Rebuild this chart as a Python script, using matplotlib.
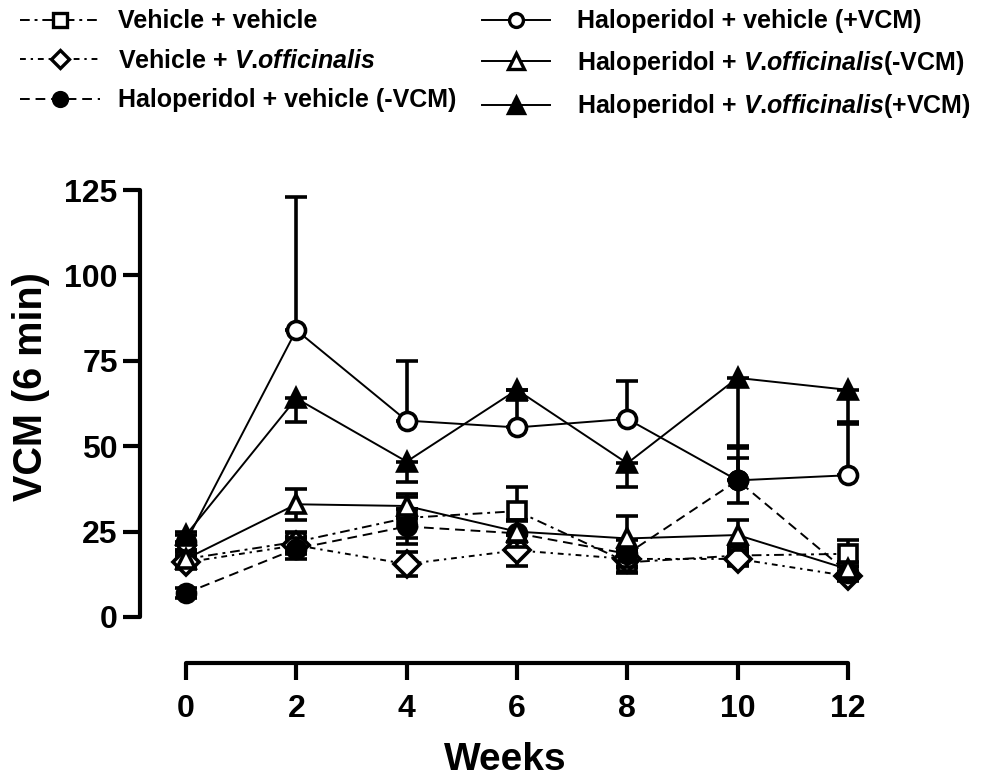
import matplotlib
matplotlib.use('Agg')
import matplotlib.pyplot as plt
from matplotlib.lines import Line2D

plt.rcParams['font.family'] = ['Liberation Sans', 'DejaVu Sans']
plt.rcParams['font.weight'] = 'bold'
plt.rcParams['mathtext.fontset'] = 'custom'
plt.rcParams['mathtext.bfit'] = 'Liberation Sans:italic:bold'
plt.rcParams['mathtext.it'] = 'Liberation Sans:italic:bold'
plt.rcParams['mathtext.rm'] = 'Liberation Sans:bold'

weeks = [0, 2, 4, 6, 8, 10, 12]

veh_veh = [17, 22, 29, 31, 16, 18, 18.5]
veh_veh_err = [2.5, 3, 6, 7, 3, 2.5, 4]

veh_vo = [16, 21, 15.5, 19.5, 17, 17, 12]
veh_vo_err = [2, 2.5, 3.5, 4.5, 2.5, 2, 1.5]

hal_veh_neg = [7, 20, 26.5, 24.5, 18.5, 40, 13]
hal_veh_neg_err = [1.5, 3, 5, 4, 4, 6.5, 2]

hal_veh_pos = [22, 84, 57.5, 55.5, 58, 40, 41.5]
hal_veh_pos_err_up = [3, 39, 17.5, 11, 11, 9.5, 15]

hal_vo_neg = [17, 33, 32.5, 25, 23, 24, 14]
hal_vo_neg_err = [2, 4.5, 3.5, 3, 6.5, 4.5, 2]

hal_vo_pos = [24, 64, 45.5, 66.5, 45, 70, 66.5]
hal_vo_pos_err_low = [3, 7, 6, 3, 7, 20, 9.5]

vo = r'$\mathbfit{V}$.$\mathbfit{officinalis}$'
labels_left = ['Vehicle + vehicle',
               'Vehicle + ' + vo,
               'Haloperidol + vehicle (-VCM)']
labels_right = ['Haloperidol + vehicle (+VCM)',
                'Haloperidol + ' + vo + '(-VCM)',
                'Haloperidol + ' + vo + '(+VCM)']

dashdot = (0, (5, 2.5, 1.5, 2.5))
dotdash = (0, (3, 2.5, 1.2, 2.5))
dashed = (0, (5, 3))

fig = plt.figure(figsize=(9.94, 7.8), dpi=100)
ax = fig.add_axes([0.1408, 0.1827, 0.7344, 0.5868])

ms = 13
mew = 2.6
ekw = dict(elinewidth=2.6, capsize=8, capthick=2.6, ecolor='black')


def series(y, err, marker, fill, ls, z):
    line = ax.errorbar(weeks, y, yerr=err, color='black', marker=marker,
                       markersize=ms, markeredgewidth=mew,
                       markerfacecolor=fill, markeredgecolor='black',
                       linestyle=ls, linewidth=1.4, zorder=z, **ekw)
    for c in line[1]:
        c.set_solid_capstyle('round')
    return line


zeros = [0] * len(weeks)
series(veh_veh, veh_veh_err, 's', 'white', dashdot, 3)
series(veh_vo, veh_vo_err, 'D', 'white', dotdash, 3)
series(hal_veh_pos, [zeros, hal_veh_pos_err_up], 'o', 'white', '-', 4)
series(hal_veh_neg, hal_veh_neg_err, 'o', 'black', dashed, 5)
series(hal_vo_neg, hal_vo_neg_err, '^', 'white', '-', 5)
series(hal_vo_pos, [hal_vo_pos_err_low, zeros], '^', 'black', '-', 6)

ax.set_xlim(-0.834, 12.4)
ax.set_ylim(-6, 128)
ax.set_xticks(weeks)
ax.set_yticks([0, 25, 50, 75, 100, 125])
ax.spines['top'].set_visible(False)
ax.spines['right'].set_visible(False)
ax.spines['left'].set_bounds(0, 125)
ax.spines['bottom'].set_bounds(0, 12)
ax.spines['bottom'].set_position(('outward', 18.4))
for s in ['left', 'bottom']:
    ax.spines[s].set_linewidth(3)
    ax.spines[s].set_capstyle('round')
ax.tick_params(axis='both', length=12, width=3, labelsize=23)
ax.tick_params(axis='x', pad=10)
ax.tick_params(axis='y', pad=4)
ax.set_xlabel('Weeks', fontsize=28, fontweight='bold', labelpad=13)
ax.set_ylabel('VCM (6 min)', fontsize=28.5, fontweight='bold')
ax.yaxis.set_label_coords(-0.123, 0.549)

handles_left = [
    Line2D([], [], color='black', marker='s', mfc='white', linestyle=dashdot, lw=1.4, ms=10, mew=2.4),
    Line2D([], [], color='black', marker='D', mfc='white', linestyle=dotdash, lw=1.4, ms=9, mew=2.4),
    Line2D([], [], color='black', marker='o', mfc='black', linestyle=dashed, lw=1.4, ms=10, mew=2.4),
]
handles_right = [
    Line2D([], [], color='black', marker='o', mfc='white', linestyle='-', lw=1.4, ms=10, mew=2.4),
    Line2D([], [], color='black', marker='^', mfc='white', linestyle='-', lw=1.4, ms=11, mew=2.4),
    Line2D([], [], color='black', marker='^', mfc='black', linestyle='-', lw=1.4, ms=11, mew=2.4),
]
leg_kw = dict(loc='upper left', frameon=False, prop={'size': 18, 'weight': 'bold'},
              borderpad=0, borderaxespad=0, labelspacing=0.62)
fig.legend(handles_left, labels_left, bbox_to_anchor=(0.02, 0.988),
           handlelength=3.2, handletextpad=0.72, **leg_kw)
fig.legend(handles_right, labels_right, bbox_to_anchor=(0.485, 0.988),
           handlelength=2.7, handletextpad=1.1, **leg_kw)

fig.savefig('out.png', dpi=100)
